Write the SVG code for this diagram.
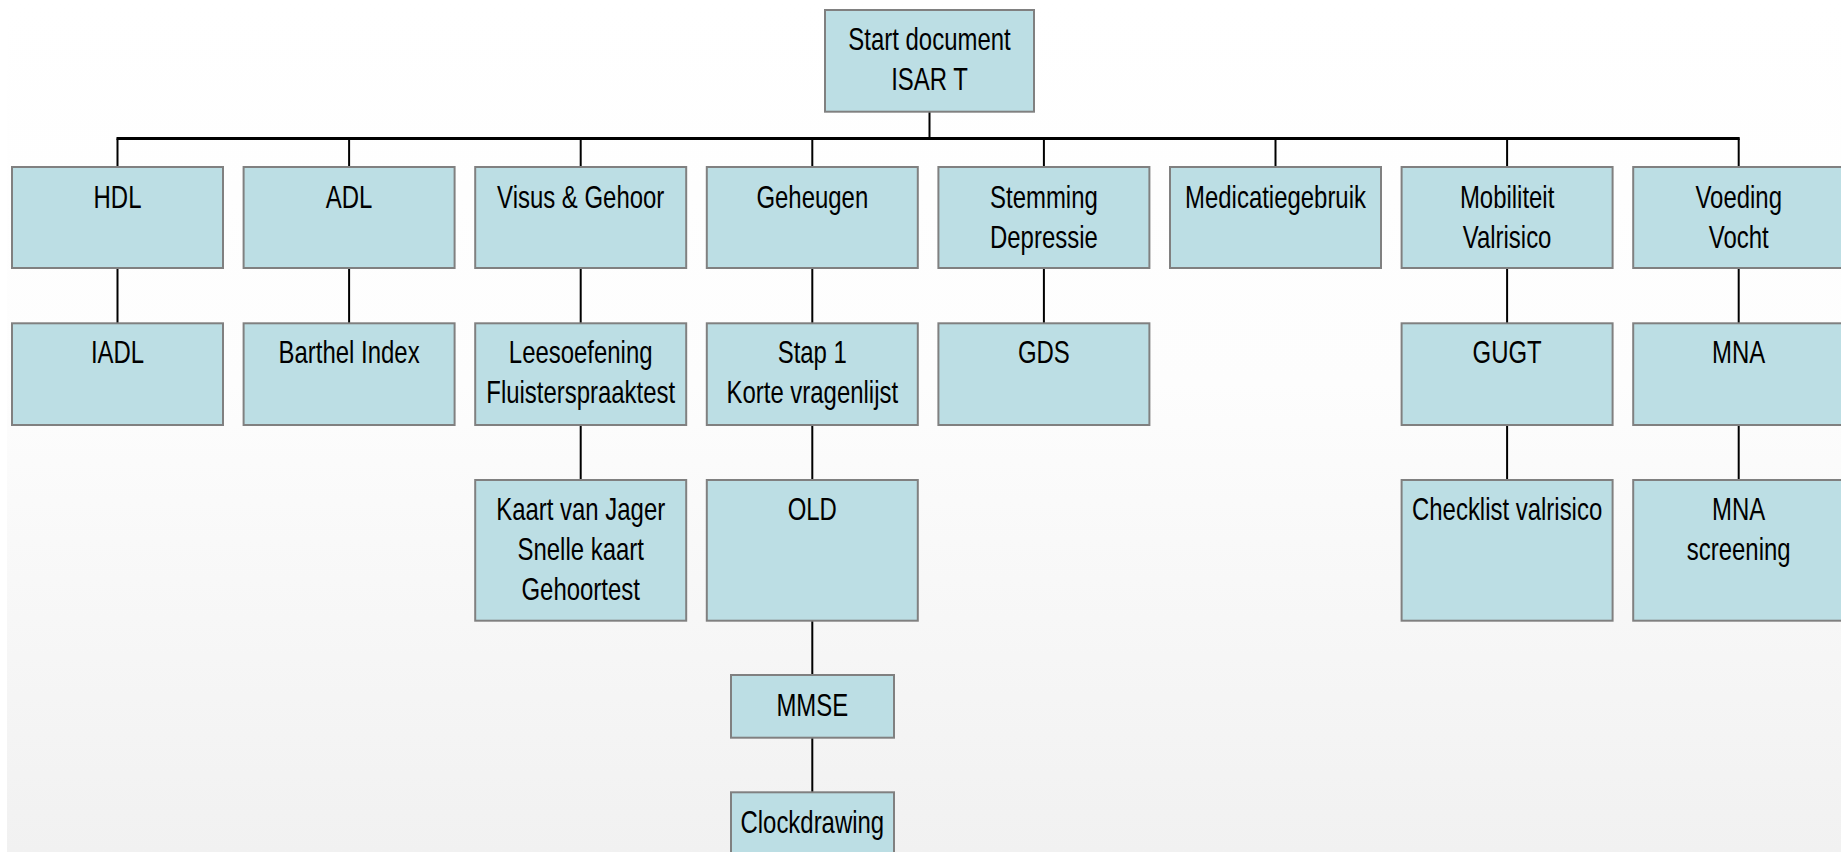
<svg xmlns="http://www.w3.org/2000/svg" width="1841" height="852" viewBox="0 0 1841 852">
<defs>
<linearGradient id="bg" x1="0" y1="0" x2="0" y2="1">
<stop offset="0" stop-color="#ffffff"/>
<stop offset="0.45" stop-color="#fdfdfd"/>
<stop offset="1" stop-color="#f1f1f1"/>
</linearGradient>
<style>
.box{fill:#bcdee4;stroke:#808080;stroke-width:2}
.t{font-family:"Liberation Sans",Arial,sans-serif;font-size:31.5px;fill:#000;text-anchor:middle}
.c{stroke:#000;stroke-width:2;fill:none}
.bus{stroke:#000;stroke-width:3;fill:none}
</style>
</defs>
<rect x="0" y="0" width="1841" height="852" fill="#ffffff"/>
<rect x="7" y="0" width="1834" height="852" fill="url(#bg)"/>
<g id="connectors">
<line class="c" x1="929.5" y1="111.7" x2="929.5" y2="138.5"/>
<line class="bus" x1="116.5" y1="138.5" x2="1739.7" y2="138.5"/>
<line class="c" x1="117.5" y1="138.5" x2="117.5" y2="167"/>
<line class="c" x1="349.1" y1="138.5" x2="349.1" y2="167"/>
<line class="c" x1="580.7" y1="138.5" x2="580.7" y2="167"/>
<line class="c" x1="812.3" y1="138.5" x2="812.3" y2="167"/>
<line class="c" x1="1043.9" y1="138.5" x2="1043.9" y2="167"/>
<line class="c" x1="1275.5" y1="138.5" x2="1275.5" y2="167"/>
<line class="c" x1="1507.1" y1="138.5" x2="1507.1" y2="167"/>
<line class="c" x1="1738.7" y1="138.5" x2="1738.7" y2="167"/>
<line class="c" x1="117.5" y1="268" x2="117.5" y2="323.3"/>
<line class="c" x1="349.1" y1="268" x2="349.1" y2="323.3"/>
<line class="c" x1="580.7" y1="268" x2="580.7" y2="323.3"/>
<line class="c" x1="812.3" y1="268" x2="812.3" y2="323.3"/>
<line class="c" x1="1043.9" y1="268" x2="1043.9" y2="323.3"/>
<line class="c" x1="1507.1" y1="268" x2="1507.1" y2="323.3"/>
<line class="c" x1="1738.7" y1="268" x2="1738.7" y2="323.3"/>
<line class="c" x1="580.7" y1="425" x2="580.7" y2="480"/>
<line class="c" x1="812.3" y1="425" x2="812.3" y2="480"/>
<line class="c" x1="1507.1" y1="425" x2="1507.1" y2="480"/>
<line class="c" x1="1738.7" y1="425" x2="1738.7" y2="480"/>
<line class="c" x1="812.3" y1="620.7" x2="812.3" y2="675"/>
<line class="c" x1="812.3" y1="737.7" x2="812.3" y2="792.3"/>
</g>
<g id="start"><rect class="box" x="825" y="10" width="209" height="101.7"/>
<text class="t" transform="matrix(0.76 0 0 1 929.5 0)" x="0" y="50">Start document</text>
<text class="t" transform="matrix(0.76 0 0 1 929.5 0)" x="0" y="90">ISAR T</text></g>
<g id="hdl"><rect class="box" x="12" y="167" width="211" height="101"/>
<text class="t" transform="matrix(0.76 0 0 1 117.5 0)" x="0" y="208">HDL</text></g>
<g id="adl"><rect class="box" x="243.6" y="167" width="211" height="101"/>
<text class="t" transform="matrix(0.76 0 0 1 349.1 0)" x="0" y="208">ADL</text></g>
<g id="visus"><rect class="box" x="475.2" y="167" width="211" height="101"/>
<text class="t" transform="matrix(0.76 0 0 1 580.7 0)" x="0" y="208">Visus &amp; Gehoor</text></g>
<g id="geheugen"><rect class="box" x="706.8" y="167" width="211" height="101"/>
<text class="t" transform="matrix(0.76 0 0 1 812.3 0)" x="0" y="208">Geheugen</text></g>
<g id="stemming"><rect class="box" x="938.4" y="167" width="211" height="101"/>
<text class="t" transform="matrix(0.76 0 0 1 1043.9 0)" x="0" y="208">Stemming</text>
<text class="t" transform="matrix(0.76 0 0 1 1043.9 0)" x="0" y="248">Depressie</text></g>
<g id="medicatie"><rect class="box" x="1170" y="167" width="211" height="101"/>
<text class="t" transform="matrix(0.76 0 0 1 1275.5 0)" x="0" y="208">Medicatiegebruik</text></g>
<g id="mobiliteit"><rect class="box" x="1401.6" y="167" width="211" height="101"/>
<text class="t" transform="matrix(0.76 0 0 1 1507.1 0)" x="0" y="208">Mobiliteit</text>
<text class="t" transform="matrix(0.76 0 0 1 1507.1 0)" x="0" y="248">Valrisico</text></g>
<g id="voeding"><rect class="box" x="1633.2" y="167" width="211" height="101"/>
<text class="t" transform="matrix(0.76 0 0 1 1738.7 0)" x="0" y="208">Voeding</text>
<text class="t" transform="matrix(0.76 0 0 1 1738.7 0)" x="0" y="248">Vocht</text></g>
<g id="iadl"><rect class="box" x="12" y="323.3" width="211" height="101.7"/>
<text class="t" transform="matrix(0.76 0 0 1 117.5 0)" x="0" y="363.5">IADL</text></g>
<g id="barthel"><rect class="box" x="243.6" y="323.3" width="211" height="101.7"/>
<text class="t" transform="matrix(0.76 0 0 1 349.1 0)" x="0" y="363.5">Barthel Index</text></g>
<g id="leesoefening"><rect class="box" x="475.2" y="323.3" width="211" height="101.7"/>
<text class="t" transform="matrix(0.76 0 0 1 580.7 0)" x="0" y="363.5">Leesoefening</text>
<text class="t" transform="matrix(0.76 0 0 1 580.7 0)" x="0" y="403.5">Fluisterspraaktest</text></g>
<g id="stap1"><rect class="box" x="706.8" y="323.3" width="211" height="101.7"/>
<text class="t" transform="matrix(0.76 0 0 1 812.3 0)" x="0" y="363.5">Stap 1</text>
<text class="t" transform="matrix(0.76 0 0 1 812.3 0)" x="0" y="403.5">Korte vragenlijst</text></g>
<g id="gds"><rect class="box" x="938.4" y="323.3" width="211" height="101.7"/>
<text class="t" transform="matrix(0.76 0 0 1 1043.9 0)" x="0" y="363.5">GDS</text></g>
<g id="gugt"><rect class="box" x="1401.6" y="323.3" width="211" height="101.7"/>
<text class="t" transform="matrix(0.76 0 0 1 1507.1 0)" x="0" y="363.5">GUGT</text></g>
<g id="mna"><rect class="box" x="1633.2" y="323.3" width="211" height="101.7"/>
<text class="t" transform="matrix(0.76 0 0 1 1738.7 0)" x="0" y="363.5">MNA</text></g>
<g id="kaart"><rect class="box" x="475.2" y="480" width="211" height="140.7"/>
<text class="t" transform="matrix(0.76 0 0 1 580.7 0)" x="0" y="520">Kaart van Jager</text>
<text class="t" transform="matrix(0.76 0 0 1 580.7 0)" x="0" y="560">Snelle kaart</text>
<text class="t" transform="matrix(0.76 0 0 1 580.7 0)" x="0" y="600">Gehoortest</text></g>
<g id="old"><rect class="box" x="706.8" y="480" width="211" height="140.7"/>
<text class="t" transform="matrix(0.76 0 0 1 812.3 0)" x="0" y="520">OLD</text></g>
<g id="checklist"><rect class="box" x="1401.6" y="480" width="211" height="140.7"/>
<text class="t" transform="matrix(0.76 0 0 1 1507.1 0)" x="0" y="520">Checklist valrisico</text></g>
<g id="mnascreening"><rect class="box" x="1633.2" y="480" width="211" height="140.7"/>
<text class="t" transform="matrix(0.76 0 0 1 1738.7 0)" x="0" y="520">MNA</text>
<text class="t" transform="matrix(0.76 0 0 1 1738.7 0)" x="0" y="560">screening</text></g>
<g id="mmse"><rect class="box" x="731" y="675" width="163" height="62.7"/>
<text class="t" transform="matrix(0.76 0 0 1 812.3 0)" x="0" y="716">MMSE</text></g>
<g id="clockdrawing"><rect class="box" x="731" y="792.3" width="163" height="70"/>
<text class="t" transform="matrix(0.76 0 0 1 812.3 0)" x="0" y="833.3">Clockdrawing</text></g>
</svg>
